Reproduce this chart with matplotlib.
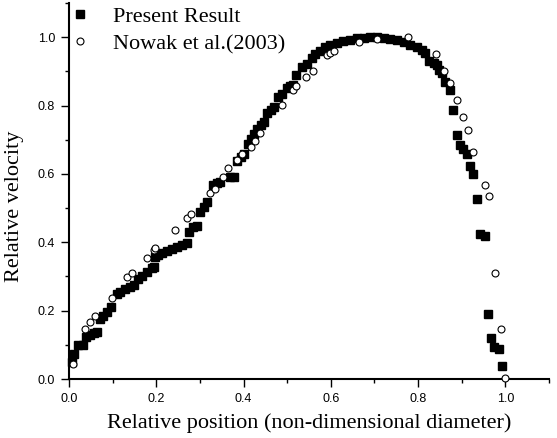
import matplotlib
matplotlib.use("Agg")
import matplotlib.pyplot as plt
from matplotlib.ticker import MultipleLocator

present_x = [0.007, 0.011, 0.021, 0.031, 0.039, 0.048, 0.058, 0.065, 0.071, 0.079, 0.088, 0.096,
             0.109, 0.117, 0.128, 0.140, 0.148, 0.159, 0.167, 0.178, 0.190, 0.195,
             0.197, 0.205, 0.213, 0.224, 0.236, 0.247, 0.258, 0.270, 0.276, 0.285, 0.293,
             0.300, 0.310, 0.317, 0.329, 0.339, 0.346, 0.369, 0.377, 0.385, 0.394, 0.401,
             0.411, 0.417, 0.424, 0.430, 0.440, 0.447, 0.453, 0.463, 0.470, 0.480, 0.488,
             0.499, 0.507, 0.514, 0.521, 0.534, 0.545, 0.557, 0.564, 0.576, 0.587, 0.599,
             0.614, 0.629, 0.644, 0.660, 0.675, 0.690, 0.706, 0.721, 0.736, 0.752, 0.767,
             0.782, 0.797, 0.809, 0.817, 0.824, 0.836, 0.843, 0.847, 0.855, 0.862, 0.874,
             0.880, 0.889, 0.895, 0.903, 0.912, 0.920, 0.927, 0.935, 0.943, 0.954, 0.960,
             0.968, 0.975, 0.985, 0.992]
present_y = [0.051, 0.073, 0.099, 0.099, 0.124, 0.130, 0.135, 0.138, 0.175, 0.184, 0.197, 0.210,
             0.248, 0.255, 0.262, 0.270, 0.275, 0.292, 0.301, 0.314, 0.324, 0.328,
             0.358, 0.363, 0.369, 0.375, 0.380, 0.387, 0.392, 0.397, 0.429, 0.445, 0.447,
             0.489, 0.502, 0.518, 0.567, 0.574, 0.577, 0.592, 0.592, 0.638, 0.650, 0.658,
             0.687, 0.703, 0.716, 0.731, 0.742, 0.751, 0.777, 0.787, 0.796, 0.825, 0.835,
             0.850, 0.857, 0.860, 0.889, 0.912, 0.922, 0.940, 0.950, 0.960, 0.970, 0.976,
             0.984, 0.990, 0.993, 0.997, 0.999, 1.000, 1.000, 0.999, 0.996, 0.992, 0.985,
             0.976, 0.970, 0.961, 0.953, 0.930, 0.925, 0.920, 0.903, 0.894, 0.869, 0.845,
             0.787, 0.713, 0.684, 0.674, 0.658, 0.624, 0.601, 0.528, 0.424, 0.419, 0.189,
             0.119, 0.094, 0.087, 0.039]

nowak_x = [0.010, 0.037, 0.048, 0.060, 0.099, 0.134, 0.144, 0.178, 0.195, 0.197, 0.242,
           0.270, 0.279, 0.322, 0.335, 0.353, 0.365, 0.386, 0.396, 0.417, 0.427, 0.438,
           0.488, 0.514, 0.521, 0.543, 0.560, 0.592, 0.599, 0.608, 0.664, 0.706, 0.778,
           0.842, 0.860, 0.874, 0.889, 0.903, 0.914, 0.927, 0.954, 0.962, 0.977, 0.991, 1.000]
nowak_y = [0.043, 0.145, 0.168, 0.184, 0.238, 0.297, 0.309, 0.355, 0.377, 0.382, 0.437,
           0.472, 0.484, 0.543, 0.557, 0.591, 0.616, 0.640, 0.658, 0.680, 0.696, 0.721,
           0.801, 0.845, 0.857, 0.882, 0.900, 0.947, 0.954, 0.959, 0.986, 0.996, 1.001,
           0.950, 0.900, 0.866, 0.816, 0.765, 0.728, 0.665, 0.567, 0.536, 0.311, 0.145, 0.002]

tick_vals = [0.0, 0.2, 0.4, 0.6, 0.8, 1.0]
tick_labels = ["0.0", "0.2", "0.4", "0.6", "0.8", "1.0"]

fig = plt.figure(figsize=(5.57, 4.38), dpi=100)
ax = fig.add_axes([0.1239, 0.1347, 0.8617, 0.8585])

ax.plot(present_x, present_y, linestyle="none", marker="s", markersize=5.4,
        color="black", label="Present Result", clip_on=False, zorder=3)
ax.plot(nowak_x, nowak_y, linestyle="none", marker="o", markersize=5,
        markerfacecolor="white", markeredgecolor="black", markeredgewidth=0.8,
        label="Nowak et al.(2003)", clip_on=False, zorder=4)

ax.set_xlim(0, 1.1)
ax.set_ylim(0, 1.1)
ax.xaxis.set_minor_locator(MultipleLocator(0.1))
ax.yaxis.set_minor_locator(MultipleLocator(0.1))
ax.set_xticks(tick_vals)
ax.set_yticks(tick_vals)
ax.set_xticklabels(tick_labels)
ax.set_yticklabels(tick_labels)

for s in ["top", "right"]:
    ax.spines[s].set_visible(False)
for s in ["left", "bottom"]:
    ax.spines[s].set_linewidth(1.5)

ax.tick_params(which="major", direction="out", length=5.5, width=1.0,
               labelsize=9)
ax.tick_params(axis="y", which="major", pad=4.5)
ax.tick_params(axis="x", which="major", pad=4.5)
ax.tick_params(which="minor", direction="out", length=3, width=1.0)
for lab in ax.get_xticklabels() + ax.get_yticklabels():
    lab.set_family("Liberation Sans")

ax.set_xlabel("Relative position (non-dimensional diameter)", family="Liberation Serif",
              fontsize=16, labelpad=6)
ax.set_ylabel("Relative velocity", family="Liberation Serif", fontsize=16)
ax.yaxis.set_label_coords(-0.094, 0.459)

ax.legend(loc="upper left", bbox_to_anchor=(0.0, 0.992), frameon=False,
          prop={"family": "Liberation Serif", "size": 16},
          handletextpad=1.0, labelspacing=0.32, handlelength=1.0,
          borderaxespad=0.0, borderpad=0.0)

fig.savefig("out.png", dpi=100)
